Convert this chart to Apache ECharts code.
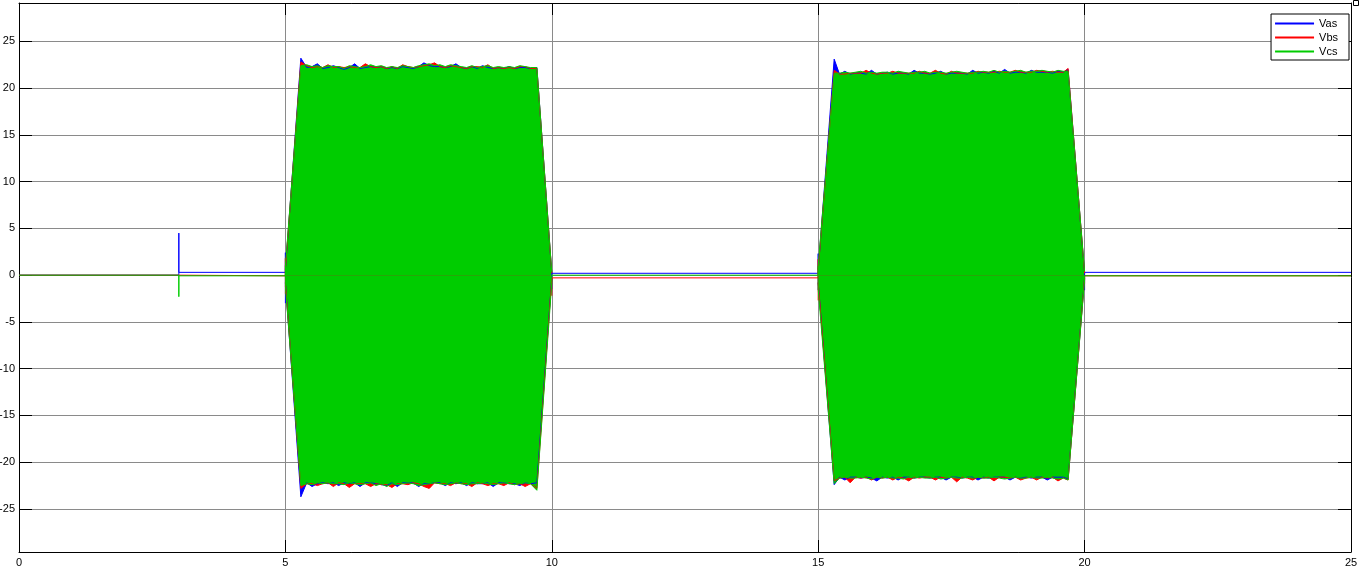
<!DOCTYPE html>
<html>
<head>
<meta charset="utf-8">
<script src="https://cdn.jsdelivr.net/npm/echarts@6/dist/echarts.min.js"></script>
<style>
html,body{margin:0;padding:0;background:#fff;}
#chart{width:1359px;height:572px;}
</style>
</head>
<body>
<div id="chart"></div>
<script>
// ---- Data (time in s, voltage in V) ----
const seriesNames = ['Vas', 'Vbs', 'Vcs'];
const xTicks = [0, 5, 10, 15, 20, 25];

// quiet (non-burst) segments incl. switching spikes; null = gap
const tQuiet   = [0, 3.0, 3.0, 3.0, 5.0, 5.0, 5.0, 5.0, 10.0, 10.0, 10.0, 15.0, 15.0, 15.0, 15.0, 20.0, 20.0, 20.0, 25.0];
const vasQuiet = [0, 0, 4.5, 0.3, 0.3, 2.4, -3.0, null, -1.5, 0.2, 0.2, 0.2, 2.3, -1.6, null, -1.6, 0.3, 0.3, 0.3];
const vbsQuiet = [0, 0, 0, -0.07, -0.07, 1.8, -2.0, null, -2.2, -0.29, -0.29, -0.29, 1.7, -2.7, null, -0.9, -0.07, -0.07, -0.07];
const vcsQuiet = [0, 0, -2.3, -0.07, -0.07, 1.0, -1.2, null, -0.8, 0, 0, 0, 1.0, -1.5, null, -0.5, -0.07, -0.07, -0.07];

// burst 1 envelope sample times
const tBurst1 = [5.0, 5.29, 5.4, 5.5, 5.6, 5.7, 5.8, 5.9, 6.0, 6.1, 6.2, 6.3, 6.4, 6.5, 6.6, 6.7, 6.8, 6.9,
  7.0, 7.1, 7.2, 7.3, 7.4, 7.5, 7.6, 7.7, 7.8, 7.9, 8.0, 8.1, 8.2, 8.3, 8.4, 8.5, 8.6, 8.7, 8.8, 8.9,
  9.0, 9.1, 9.2, 9.3, 9.4, 9.5, 9.6, 9.72, 10.0];
// burst 2 envelope sample times
const tBurst2 = [15.0, 15.3, 15.4, 15.5, 15.6, 15.7, 15.8, 15.9, 16.0, 16.1, 16.2, 16.3, 16.4, 16.5, 16.6, 16.7, 16.8, 16.9,
  17.0, 17.1, 17.2, 17.3, 17.4, 17.5, 17.6, 17.7, 17.8, 17.9, 18.0, 18.1, 18.2, 18.3, 18.4, 18.5, 18.6, 18.7, 18.8, 18.9,
  19.0, 19.1, 19.2, 19.3, 19.4, 19.5, 19.6, 19.69, 20.0];

// burst 1 upper / lower envelopes
const vasB1Upper = [0.6,
  23.2, 22.2, 22.3, 22.6, 22.1, 22.2, 22.4, 22.2, 22.0,
  22.2, 22.6, 22.1, 22.2, 22.3, 22.2, 22.3, 22.1, 22.2,
  22.1, 22.3, 22.2, 22.1, 22.3, 22.7, 22.4, 22.3, 22.3,
  22.2, 22.3, 22.6, 22.2, 22.1, 22.3, 22.1, 22.4, 22.2,
  22.1, 22.2, 22.1, 22.3, 22.1, 22.2, 22.2, 22.1, 22.2,
  0.2];
const vbsB1Upper = [0.6,
  22.8, 22.4, 22.2, 22.3, 22.2, 22.5, 22.2, 22.3, 22.2,
  22.3, 22.2, 22.2, 22.6, 22.3, 22.2, 22.3, 22.1, 22.3,
  22.1, 22.5, 22.3, 22.2, 22.3, 22.4, 22.5, 22.7, 22.3,
  22.2, 22.4, 22.3, 22.2, 22.1, 22.3, 22.3, 22.2, 22.5,
  22.1, 22.2, 22.1, 22.2, 22.1, 22.3, 22.3, 22.1, 22.1,
  0.2];
const vcsB1Upper = [1.0,
  22.4, 22.5, 22.3, 22.4, 22.2, 22.4, 22.3, 22.3, 22.1,
  22.4, 22.3, 22.2, 22.3, 22.5, 22.3, 22.4, 22.2, 22.3,
  22.2, 22.4, 22.3, 22.2, 22.4, 22.5, 22.6, 22.4, 22.5,
  22.3, 22.5, 22.4, 22.3, 22.2, 22.4, 22.2, 22.3, 22.4,
  22.2, 22.3, 22.2, 22.3, 22.2, 22.4, 22.3, 22.2, 22.2,
  0.3];
const vasB1Lower = [-0.8,
  -23.7, -22.2, -22.6, -22.3, -22.2, -22.3, -22.2, -22.5, -22.2,
  -22.3, -22.2, -22.6, -22.2, -22.2, -22.3, -22.4, -22.5, -22.2,
  -22.6, -22.2, -22.2, -22.2, -22.6, -22.3, -22.3, -22.2, -22.2,
  -22.5, -22.2, -22.3, -22.2, -22.5, -22.2, -22.3, -22.3, -22.2,
  -22.6, -22.2, -22.2, -22.3, -22.3, -22.5, -22.2, -22.3, -22.2,
  -0.3];
const vbsB1Lower = [-0.8,
  -22.8, -22.3, -22.3, -22.5, -22.3, -22.2, -22.6, -22.2, -22.3,
  -22.7, -22.3, -22.3, -22.3, -22.6, -22.3, -22.4, -22.4, -22.7,
  -22.3, -22.3, -22.4, -22.2, -22.3, -22.6, -22.8, -22.2, -22.3,
  -22.3, -22.5, -22.2, -22.3, -22.3, -22.6, -22.2, -22.3, -22.5,
  -22.3, -22.3, -22.5, -22.2, -22.4, -22.3, -22.6, -22.3, -22.8,
  -0.3];
const vcsB1Lower = [-1.2,
  -22.5, -22.3, -22.4, -22.2, -22.3, -22.2, -22.3, -22.3, -22.4,
  -22.2, -22.3, -22.4, -22.3, -22.2, -22.5, -22.3, -22.6, -22.3,
  -22.4, -22.3, -22.2, -22.3, -22.5, -22.4, -22.3, -22.2, -22.3,
  -22.4, -22.3, -22.2, -22.3, -22.4, -22.3, -22.3, -22.2, -22.3,
  -22.4, -22.3, -22.2, -22.3, -22.4, -22.3, -22.2, -22.3, -23.0,
  -0.8];

// burst 2 upper / lower envelopes
const vasB2Upper = [0.6,
  23.1, 21.5, 21.8, 21.5, 21.6, 21.6, 21.5, 21.9, 21.5,
  21.6, 21.7, 21.5, 21.6, 21.6, 21.5, 21.9, 21.6, 21.6,
  21.5, 21.6, 21.8, 21.5, 21.6, 21.6, 21.6, 21.5, 21.9,
  21.6, 21.7, 21.6, 21.8, 21.6, 22.0, 21.6, 21.7, 21.7,
  21.6, 21.9, 21.7, 21.7, 21.7, 21.6, 21.8, 21.7, 22.0,
  0.2];
const vbsB2Upper = [0.6,
  21.9, 21.5, 21.5, 21.6, 21.6, 21.6, 21.9, 21.6, 21.5,
  21.6, 21.6, 21.8, 21.6, 21.6, 21.6, 21.6, 21.8, 21.6,
  21.6, 21.9, 21.6, 21.5, 21.8, 21.6, 21.6, 21.6, 21.6,
  21.8, 21.7, 21.7, 21.7, 21.8, 21.7, 21.7, 21.9, 21.7,
  21.7, 21.7, 21.9, 21.8, 21.7, 21.8, 21.7, 21.7, 22.1,
  0.2];
const vcsB2Upper = [1.0,
  21.6, 21.6, 21.7, 21.6, 21.7, 21.8, 21.6, 21.7, 21.6,
  21.7, 21.7, 21.6, 21.8, 21.7, 21.6, 21.7, 21.7, 21.8,
  21.6, 21.7, 21.7, 21.6, 21.7, 21.8, 21.7, 21.6, 21.7,
  21.7, 21.8, 21.7, 21.9, 21.7, 21.8, 21.7, 21.8, 21.9,
  21.7, 21.8, 21.8, 21.9, 21.8, 21.7, 21.9, 21.8, 21.8,
  0.4];
const vasB2Lower = [-0.8,
  -22.4, -21.6, -21.9, -21.6, -21.6, -21.7, -21.6, -21.7, -22.0,
  -21.6, -21.7, -21.6, -21.9, -21.6, -21.6, -21.7, -21.6, -21.6,
  -21.7, -21.6, -21.6, -21.9, -21.6, -21.6, -21.7, -21.6, -21.6,
  -21.9, -21.6, -21.7, -21.6, -21.6, -21.6, -21.9, -21.6, -21.7,
  -21.6, -21.7, -21.6, -21.6, -21.9, -21.6, -21.6, -21.6, -21.8,
  -0.3];
const vbsB2Lower = [-0.8,
  -22.0, -21.7, -21.6, -22.2, -21.6, -21.7, -21.6, -21.9, -21.6,
  -21.7, -21.6, -21.9, -21.6, -21.7, -22.0, -21.6, -21.7, -21.6,
  -21.6, -21.9, -21.6, -21.7, -21.6, -22.1, -21.6, -21.7, -21.9,
  -21.6, -21.7, -21.6, -22.0, -21.6, -21.6, -21.7, -21.6, -21.9,
  -21.7, -21.6, -21.9, -21.6, -21.7, -21.6, -22.0, -21.7, -21.9,
  -0.3];
const vcsB2Lower = [-1.5,
  -22.3, -21.7, -21.6, -21.7, -21.7, -21.6, -21.7, -21.8, -21.6,
  -21.7, -21.6, -21.7, -21.7, -21.8, -21.6, -21.7, -21.6, -21.7,
  -21.7, -21.6, -21.8, -21.7, -21.6, -21.7, -21.7, -21.6, -21.7,
  -21.6, -21.7, -21.7, -21.6, -21.7, -21.8, -21.7, -21.6, -21.7,
  -21.7, -21.6, -21.7, -21.7, -21.6, -21.7, -21.8, -21.7, -21.9,
  -0.5];

// ---- Chart construction ----
const colors = { Vas: '#0000ff', Vbs: '#ff0000', Vcs: '#00cc00' };
const FONT = '"Liberation Sans", Arial, Helvetica, sans-serif';

function pairs(t, v) {
  const out = [];
  for (let i = 0; i < t.length && i < v.length; i++) out.push([t[i], v[i]]);
  return out;
}
function quietSeries(name, v) {
  return {
    type: 'line', name: name, data: pairs(tQuiet, v), symbol: 'none', showSymbol: false,
    connectNulls: false, silent: true, animation: false,
    lineStyle: { color: colors[name], width: 1 }, itemStyle: { color: colors[name] }
  };
}
function burstSeries(name, t, v) {
  return {
    type: 'line', name: name, data: pairs(t, v), symbol: 'none', showSymbol: false,
    silent: true, animation: false,
    lineStyle: { color: colors[name], width: 1 }, itemStyle: { color: colors[name] },
    areaStyle: { color: colors[name], opacity: 1, origin: 0 }
  };
}

const series = [
  quietSeries('Vas', vasQuiet),
  burstSeries('Vas', tBurst1, vasB1Upper), burstSeries('Vas', tBurst1, vasB1Lower),
  burstSeries('Vas', tBurst2, vasB2Upper), burstSeries('Vas', tBurst2, vasB2Lower),
  quietSeries('Vbs', vbsQuiet),
  burstSeries('Vbs', tBurst1, vbsB1Upper), burstSeries('Vbs', tBurst1, vbsB1Lower),
  burstSeries('Vbs', tBurst2, vbsB2Upper), burstSeries('Vbs', tBurst2, vbsB2Lower),
  quietSeries('Vcs', vcsQuiet),
  burstSeries('Vcs', tBurst1, vcsB1Upper), burstSeries('Vcs', tBurst1, vcsB1Lower),
  burstSeries('Vcs', tBurst2, vcsB2Upper), burstSeries('Vcs', tBurst2, vcsB2Lower)
];

const axisLineStyle = { show: true, onZero: false, lineStyle: { color: '#000', width: 1 } };
const chart = echarts.init(document.getElementById('chart'), null, { renderer: 'canvas' });
chart.setOption({
  animation: false,
  backgroundColor: '#fff',
  grid: { left: 19, right: 8, top: 3, bottom: 20, containLabel: false, outerBoundsMode: 'none' },
  xAxis: [
    {
      type: 'value', min: xTicks[0], max: xTicks[xTicks.length - 1], interval: 5,
      axisLine: axisLineStyle,
      axisTick: { show: true, inside: true, length: 12, lineStyle: { color: '#000' } },
      axisLabel: { color: '#000', fontSize: 11, fontFamily: FONT, margin: 5 },
      splitLine: { show: true, lineStyle: { color: '#8a8a8a', width: 1 } }
    },
    {
      type: 'value', position: 'top', min: xTicks[0], max: xTicks[xTicks.length - 1], interval: 5,
      axisLine: axisLineStyle,
      axisTick: { show: true, inside: true, length: 12, lineStyle: { color: '#000' } },
      axisLabel: { show: false }, splitLine: { show: false }
    }
  ],
  yAxis: [
    {
      type: 'value', min: -29.6, max: 29.1, splitNumber: 12,
      axisLine: axisLineStyle,
      axisTick: { show: true, inside: true, length: 13, lineStyle: { color: '#000' } },
      axisLabel: { color: '#000', fontSize: 11, fontFamily: FONT, margin: 4, showMinLabel: false, showMaxLabel: false },
      splitLine: { show: true, lineStyle: { color: '#8a8a8a', width: 1 } }
    },
    {
      type: 'value', position: 'right', min: -29.6, max: 29.1, splitNumber: 12,
      axisLine: axisLineStyle,
      axisTick: { show: true, inside: true, length: 13, lineStyle: { color: '#000' } },
      axisLabel: { show: false }, splitLine: { show: false }
    }
  ],
  legend: {
    data: seriesNames, orient: 'vertical', right: 10, top: 14,
    padding: [3, 11, 2, 4], itemGap: 1, itemWidth: 39, itemHeight: 2, icon: 'rect',
    borderColor: '#000', borderWidth: 1, borderRadius: 0, backgroundColor: '#fff',
    selectedMode: false,
    textStyle: { fontSize: 11, color: '#000', fontFamily: FONT, lineHeight: 13 }
  },
  graphic: [
    { type: 'rect', right: 0, top: 0, shape: { width: 5, height: 5 }, style: { fill: '#fff', stroke: '#000', lineWidth: 1 } }
  ],
  series: series
});
</script>
</body>
</html>
